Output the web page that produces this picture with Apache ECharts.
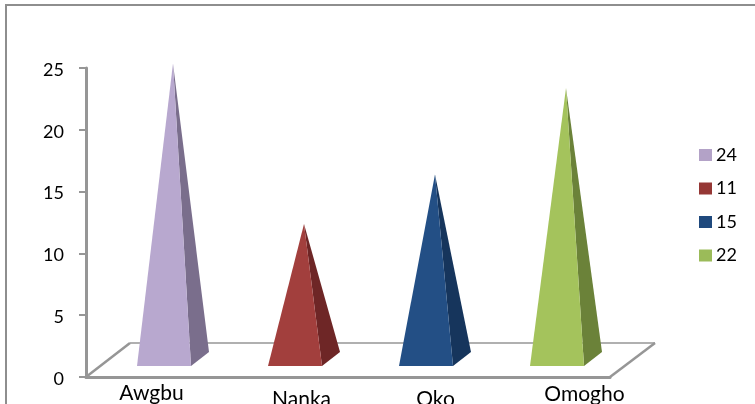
<!DOCTYPE html>
<html>
<head>
<meta charset="utf-8">
<style>html,body{margin:0;padding:0;background:#fff}#c{width:755px;height:404px}</style>
<script src="https://cdn.jsdelivr.net/npm/echarts@6/dist/echarts.min.js"></script>
</head>
<body>
<div id="c"></div>
<script>
const categories = ['Awgbu', 'Nanka', 'Oko', 'Omogho'];
const values = [24, 11, 15, 22];
const legendNames = ['24', '11', '15', '22'];
const yTicks = [0, 5, 10, 15, 20, 25];
const frontColors = ['#B8A8CF', '#A23F3D', '#234F85', '#A4C35C'];
const sideColors = ['#7A6E8C', '#6E2626', '#16355C', '#6B8239'];
const legendColors = ['#B3A2C7', '#953735', '#1F497D', '#9BBB59'];
const labelShift = [[0, 0], [19, 6], [22, 6], [40, 1]];

const GREY = '#969696';
function pyramid(i) {
  return function (params, api) {
    const base = api.coord([api.value(0), 0]);
    const top = api.coord([api.value(0), api.value(1)]);
    const tip = [top[0] + 21.5, top[1] - 17];
    const l = [base[0] - 14.5, base[1] - 11];
    const r = [base[0] + 39.5, base[1] - 11];
    const b = [r[0] + 18, r[1] - 14];
    return {
      type: 'group',
      children: [
        { type: 'polygon', shape: { points: [r, b, tip] }, style: { fill: sideColors[i] } },
        { type: 'polygon', shape: { points: [l, r, tip] }, style: { fill: frontColors[i] } }
      ]
    };
  };
}
const floorSeries = {
  type: 'custom',
  name: 'floor',
  silent: true,
  z: 1,
  data: [[categories[0], 0]],
  renderItem: function (params) {
    const g = params.coordSys;
    const x0 = g.x, x1 = g.x + g.width, y0 = g.y + g.height, y1 = y0 - 34;
    const line = (a, b, w) => ({
      type: 'line',
      shape: { x1: a[0], y1: a[1], x2: b[0], y2: b[1] },
      style: { stroke: GREY, lineWidth: w }
    });
    return {
      type: 'group',
      children: [
        line([x0, y0], [x0 + 44, y1], 2.5),
        line([x0 + 44, y1], [x1 + 45, y1], 1.5),
        line([x1 + 45, y1], [x1, y0], 2.5)
      ]
    };
  }
};
const chart = echarts.init(document.getElementById('c'));
chart.setOption({
  animation: false,
  backgroundColor: '#fff',
  graphic: [{
    type: 'rect', z: 0,
    shape: { x: 6, y: 5, width: 820, height: 460 },
    style: { fill: 'none', stroke: '#8e8e8e', lineWidth: 2 }
  }],
  grid: { left: 86, top: 68, width: 524, height: 309, outerBoundsMode: 'none' },
  legend: {
    orient: 'vertical', left: 694, top: 140,
    itemWidth: 13, itemHeight: 12, itemGap: 13.5,
    icon: 'rect',
    data: legendNames,
    textStyle: { fontFamily: 'Lato', fontSize: 18, color: '#000', padding: [0, 0, 0, -1], lineHeight: 20 }
  },
  xAxis: {
    type: 'category',
    data: categories.map((c, i) => ({
      value: c,
      textStyle: { padding: [labelShift[i][1], 0, 0, labelShift[i][0] * 2] }
    })),
    axisLine: { lineStyle: { color: GREY, width: 3 } },
    axisTick: { show: false },
    axisLabel: { fontFamily: 'Lato', fontSize: 21, color: '#000', margin: 6, interval: 0 }
  },
  yAxis: {
    type: 'value', min: yTicks[0], max: yTicks[yTicks.length - 1], interval: 5,
    splitLine: { show: false },
    axisLine: { show: true, lineStyle: { color: GREY, width: 3 } },
    axisTick: { show: true, length: 7, lineStyle: { color: GREY, width: 2 } },
    axisLabel: { fontFamily: 'Lato', fontSize: 18, color: '#000', margin: 22, verticalAlign: 'top', padding: [-7, 0, 0, 0] }
  },
  series: [floorSeries].concat(categories.map((c, i) => ({
    type: 'custom',
    name: legendNames[i],
    z: 3,
    itemStyle: { color: legendColors[i] },
    data: [[c, values[i]]],
    renderItem: pyramid(i)
  })))
});
</script>
</body>
</html>
